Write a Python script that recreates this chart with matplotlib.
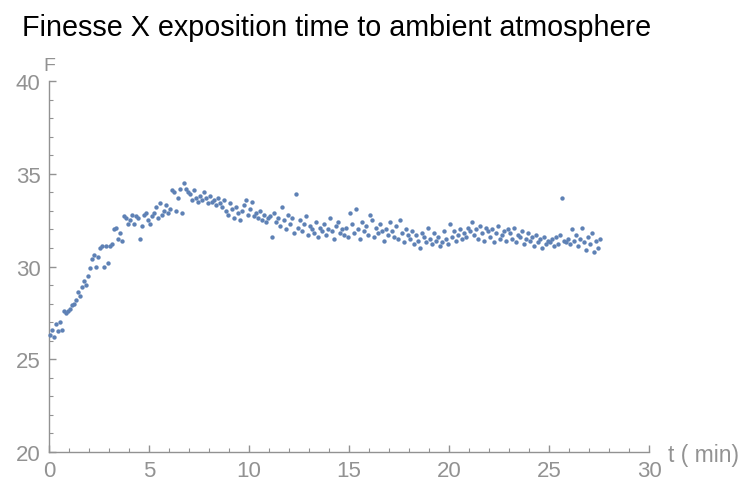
import numpy as np
import matplotlib.pyplot as plt

# Finesse readings, one row per minute, sampled every 0.1 min
F_rows = [
    [26.3, 26.6, 26.2, 26.9, 26.5, 27.0, 26.6, 27.6, 27.5, 27.6],
    [27.7, 27.9, 28.0, 28.2, 28.6, 28.4, 28.9, 29.2, 29.0, 29.5],
    [29.9, 30.4, 30.6, 30.0, 30.5, 31.0, 31.1, 30.0, 31.1, 30.2],
    [31.1, 31.2, 32.0, 32.1, 31.5, 31.8, 31.4, 32.7, 32.6, 32.3],
    [32.5, 32.8, 32.3, 32.7, 32.6, 31.5, 32.2, 32.8, 32.9, 32.5],
    [32.3, 32.7, 32.9, 33.2, 32.6, 33.4, 32.8, 33.0, 33.3, 32.9],
    [33.1, 34.1, 34.0, 33.0, 33.7, 34.2, 32.9, 34.5, 34.2, 34.0],
    [33.9, 33.6, 34.1, 33.7, 33.5, 33.8, 33.6, 34.0, 33.7, 33.4],
    [33.8, 33.5, 33.6, 33.3, 33.7, 33.4, 33.2, 33.6, 33.0, 32.8],
    [33.4, 33.1, 32.6, 33.2, 32.9, 32.5, 33.0, 33.3, 33.6, 32.8],
    [33.1, 33.5, 32.7, 32.9, 32.6, 33.0, 32.5, 32.8, 32.4, 32.6],
    [32.7, 31.6, 32.9, 32.4, 32.6, 32.2, 33.2, 32.5, 32.0, 32.8],
    [32.3, 32.6, 31.8, 33.9, 32.1, 32.5, 31.9, 32.3, 32.7, 31.7],
    [32.2, 32.0, 31.8, 32.4, 31.6, 32.1, 31.9, 32.3, 31.7, 32.0],
    [32.6, 31.9, 31.5, 32.2, 32.4, 31.8, 32.0, 31.7, 32.1, 31.6],
    [32.9, 32.3, 31.8, 33.1, 32.0, 31.5, 32.4, 31.9, 32.2, 31.7],
    [32.8, 32.5, 31.6, 32.1, 31.8, 32.3, 31.9, 31.4, 32.0, 31.7],
    [32.4, 31.9, 31.6, 32.2, 31.5, 32.5, 31.8, 31.3, 32.0, 31.7],
    [31.5, 31.9, 31.2, 31.7, 31.4, 31.0, 31.8, 31.6, 31.3, 32.1],
    [31.5, 31.2, 31.8, 31.4, 31.6, 31.1, 31.3, 31.9, 31.5, 31.2],
    [32.3, 31.6, 31.9, 31.4, 31.7, 32.0, 31.5, 31.8, 31.6, 32.1],
    [31.9, 32.4, 31.7, 32.0, 31.5, 32.2, 31.8, 31.4, 32.1, 31.9],
    [31.6, 32.0, 31.3, 31.8, 32.2, 31.5, 31.7, 31.9, 31.4, 32.0],
    [31.8, 31.5, 32.1, 31.3, 31.7, 31.6, 31.9, 31.2, 31.5, 31.8],
    [31.4, 31.6, 31.1, 31.7, 31.3, 31.5, 31.0, 31.6, 31.2, 31.4],
    [31.3, 31.5, 31.1, 31.6, 31.2, 31.7, 33.7, 31.4, 31.3, 31.5],
    [31.2, 32.0, 31.4, 31.7, 31.1, 31.5, 32.1, 31.3, 30.9, 31.6],
    [31.2, 31.8, 30.8, 31.4, 31.0, 31.5],
]
F = np.concatenate([np.array(r) for r in F_rows])
t = np.arange(len(F)) * 0.1 + 0.05

plt.rcParams['font.family'] = ['Liberation Sans', 'DejaVu Sans']
grey = '#929292'

fig = plt.figure(figsize=(7.44, 4.81), dpi=100)
ax = fig.add_axes([49/744, 28/481, 600/744, 371/481])

ax.scatter(t, F, s=10, color='#5E81B5', linewidths=0, zorder=3, clip_on=False)

ax.set_xlim(0, 30)
ax.set_ylim(20, 40)
ax.set_xticks(range(0, 31, 5))
ax.set_yticks(range(20, 41, 5))
ax.set_xticks(range(0, 31), minor=True)
ax.set_yticks(range(20, 41), minor=True)

for s in ['top', 'right']:
    ax.spines[s].set_visible(False)
for s in ['left', 'bottom']:
    ax.spines[s].set_color(grey)
    ax.spines[s].set_linewidth(1.0)

ax.tick_params(which='both', direction='in', color=grey, labelcolor=grey)
ax.tick_params(which='major', length=5, width=1, labelsize=16)
ax.tick_params(axis='x', which='major', pad=6)
ax.tick_params(axis='y', which='major', pad=6)
ax.tick_params(which='minor', length=3, width=0.8)

ax.text(0, 40.4, 'F', color=grey, fontsize=14, ha='center', va='bottom')
ax.text(30.95, 19.85, 't ( min)', color=grey, fontsize=16.5, ha='left', va='center')

fig.text(22/744, 1 - 28/481, 'Finesse X exposition time to ambient atmosphere',
         fontsize=20.7, ha='left', va='center', color='black')

fig.savefig('out.png', dpi=100)
